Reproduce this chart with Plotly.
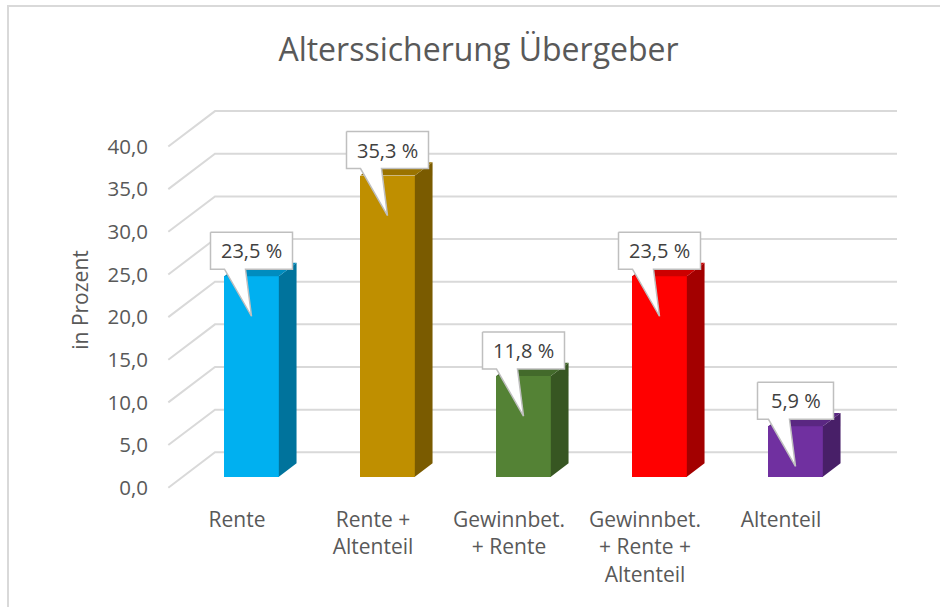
import plotly.graph_objects as go

# ---------------- data ----------------
categories = ["Rente", "Rente +<br>Altenteil", "Gewinnbet.<br>+ Rente",
              "Gewinnbet.<br>+ Rente +<br>Altenteil", "Altenteil"]
values = [23.5, 35.3, 11.8, 23.5, 5.9]
value_labels = ["23,5 %", "35,3 %", "11,8 %", "23,5 %", "5,9 %"]
y_ticks = [0, 5, 10, 15, 20, 25, 30, 35, 40]
title_text = "Alterssicherung Übergeber"
y_title = "in Prozent"

front_colors = ["#00B0F0", "#BF8F00", "#548235", "#FF0000", "#7030A0"]
side_colors = ["#00739C", "#7A5B00", "#375622", "#A30000", "#481F68"]
top_colors = ["#008CBF", "#9A7300", "#436A2B", "#CC0000", "#5A2782"]

# ---------------- geometry (style) ----------------
W, H = 940, 607
ML, MR, MT, MB = 152, 20, 95, 102
PX_X = 136.0      # pixels per category
PX_Y = 8.53       # pixels per percent
X0_PX = 237.0     # pixel of category 0 on front plane
Y0_PX = 487.7     # pixel of value 0 on front plane
x_range = [(ML - X0_PX) / PX_X, (W - MR - X0_PX) / PX_X]
y_range = [(Y0_PX - (H - MB)) / PX_Y, (Y0_PX - MT) / PX_Y]

def dx(px):
    return px / PX_X

def dy(px):
    return px / PX_Y

BAR_DX, BAR_DY = dx(14.5), dy(11.0)      # bar front plane offset
DEP_DX, DEP_DY = dx(17.7), dy(13.4)      # bar depth
WALL_DX, WALL_DY = dx(46.7), dy(35.4)    # wall depth
WALL_X = dx(168.3 - X0_PX)               # front edge of side wall
GRID_END = dx(897 - X0_PX)               # right end of gridlines
BAR_W = 0.402

GRID_COLOR = "#D9D9D9"
TEXT_COLOR = "#595959"
FONT = "Open Sans"

fig = go.Figure()

# gridlines (side wall + back wall)
gx, gy = [], []
for v in y_ticks:
    gx += [WALL_X, WALL_X + WALL_DX, GRID_END, None]
    gy += [v, v + WALL_DY, v + WALL_DY, None]
fig.add_trace(go.Scatter(x=gx, y=gy, mode="lines", zorder=-1,
                         line=dict(color=GRID_COLOR, width=2),
                         hoverinfo="skip", showlegend=False))

# bars (front faces)
xs = [i + BAR_DX for i in range(len(values))]
fig.add_trace(go.Bar(x=xs, y=values, base=BAR_DY, width=BAR_W,
                     marker=dict(color=front_colors, line=dict(width=0)),
                     hoverinfo="skip", showlegend=False))

# side and top faces
for i, v in enumerate(values):
    xl = xs[i] - BAR_W / 2
    xr = xs[i] + BAR_W / 2
    b = BAR_DY
    t = BAR_DY + v
    fig.add_trace(go.Scatter(
        x=[xr, xr, xr + DEP_DX, xr + DEP_DX, xr],
        y=[b, t, t + DEP_DY, b + DEP_DY, b],
        fill="toself", fillcolor=side_colors[i], mode="lines",
        line=dict(width=0, color=side_colors[i]),
        hoverinfo="skip", showlegend=False))
    fig.add_trace(go.Scatter(
        x=[xl, xr, xr + DEP_DX, xl + DEP_DX, xl],
        y=[t, t, t + DEP_DY, t + DEP_DY, t],
        fill="toself", fillcolor=top_colors[i], mode="lines",
        line=dict(width=0, color=top_colors[i]),
        hoverinfo="skip", showlegend=False))

# callouts
for i, v in enumerate(values):
    cx = xs[i]
    ty = BAR_DY + v
    hw = 41 if len(value_labels[i]) > 5 else 38
    pts = [(-hw, 44), (hw, 44), (hw, 7), (-6, 7), (0, -40), (-27, 7), (-hw, 7), (-hw, 44)]
    fig.add_trace(go.Scatter(
        x=[cx + dx(p[0]) for p in pts],
        y=[ty + dy(p[1]) for p in pts],
        fill="toself", fillcolor="white", mode="lines",
        line=dict(color="#BFBFBF", width=1.5),
        hoverinfo="skip", showlegend=False))
    fig.add_annotation(x=cx, y=ty, yshift=25.5, text=value_labels[i],
                       showarrow=False, xanchor="center", yanchor="middle",
                       font=dict(family=FONT, size=20, color="#404040"))

PW = W - ML - MR
PH = H - MT - MB
# chart border
fig.add_shape(type="rect", xref="paper", yref="paper",
              x0=(8 - ML) / PW, x1=(W + 10 - ML) / PW,
              y0=-(MB + 10) / PH, y1=(PH + MT - 6) / PH,
              line=dict(color="#D9D9D9", width=2), layer="below")

fig.update_layout(
    width=W, height=H,
    margin=dict(l=ML, r=MR, t=MT, b=MB, pad=0),
    paper_bgcolor="white", plot_bgcolor="white",
    separators=",.",
    font=dict(family=FONT, color=TEXT_COLOR),
    title=dict(text=title_text, x=478.5 / W, xref="container", xanchor="center",
               y=1 - 50 / H, yref="container", yanchor="middle",
               font=dict(family=FONT, size=32, color=TEXT_COLOR)),
    xaxis=dict(range=x_range, tickvals=list(range(len(categories))),
               ticktext=categories, showgrid=False, zeroline=False,
               showline=False, ticks="", fixedrange=True,
               tickfont=dict(family=FONT, size=21, color=TEXT_COLOR)),
    yaxis=dict(range=y_range, tickvals=y_ticks, tickformat=".1f",
               showgrid=False, zeroline=False, showline=False, ticks="",
               fixedrange=True, ticklabelstandoff=3,
               tickfont=dict(family=FONT, size=20.5, color=TEXT_COLOR)),
    bargap=0,
)
fig.update_yaxes(title=dict(text=y_title, standoff=13,
                            font=dict(family=FONT, size=21, color=TEXT_COLOR)))

fig.write_html("out.html", config={"displayModeBar": False},
               post_script="document.body.style.margin='0';document.body.style.padding='0';")
